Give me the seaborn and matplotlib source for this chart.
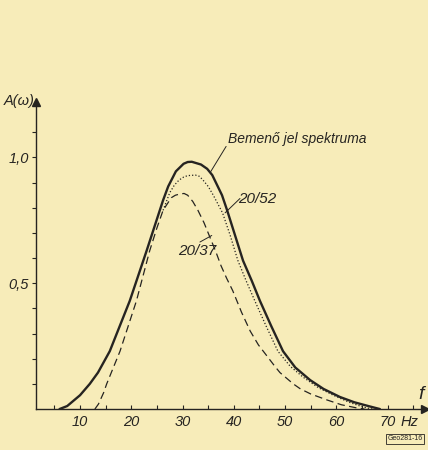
import pandas as pd
import matplotlib
matplotlib.use("Agg")
import matplotlib.pyplot as plt
import seaborn as sns

# values (f in Hz, A = relative amplitude)
input_f = [6.0, 7.5, 10.0, 11.9, 13.5, 15.8, 19.7, 23.0, 26.2, 27.2, 28.7, 30.2,
           31.0, 31.8, 33.6, 34.8, 35.8, 37.7, 38.7, 41.8, 43.5, 45.1, 47.3, 49.6,
           52.0, 54.9, 57.5, 60.7, 63.5, 66.6, 68.5]
input_a = [0.0, 0.012, 0.055, 0.10, 0.145, 0.23, 0.43, 0.63, 0.83, 0.885, 0.945, 0.975,
           0.982, 0.983, 0.972, 0.955, 0.93, 0.85, 0.79, 0.59, 0.51, 0.43, 0.33, 0.23,
           0.165, 0.115, 0.08, 0.048, 0.027, 0.01, 0.0]

f_2037 = [12.9, 13.6, 14.6, 15.2, 16.5, 17.8, 19.4, 21.0, 23.6, 25.0, 26.2, 27.8,
          28.6, 29.5, 30.3, 31.0, 32.0, 33.0, 34.2, 35.4, 36.5, 37.5, 38.6, 39.8,
          41.5, 43.2, 44.8, 46.5, 48.0, 49.0, 51.6, 53.0, 55.0, 58.2, 61.0, 64.1, 65.5]
a_2037 = [0.0, 0.02, 0.065, 0.10, 0.165, 0.23, 0.33, 0.43, 0.63, 0.72, 0.79, 0.84,
          0.85, 0.855, 0.857, 0.85, 0.825, 0.79, 0.74, 0.68, 0.625, 0.57, 0.52, 0.47,
          0.385, 0.31, 0.255, 0.21, 0.17, 0.145, 0.10, 0.08, 0.06, 0.036, 0.017, 0.004, 0.0]

# 20/52 follows the 20/37 curve on the rising side, drawn from where it leaves it
f_2052 = [26.2, 27.5, 28.4, 29.3, 30.2, 31.0, 32.5, 33.3, 34.0, 35.0, 36.0, 37.8,
          39.3, 40.8, 42.4, 44.1, 46.3, 48.6, 51.0, 53.5, 56.5, 59.4, 62.5, 65.2, 67.0]
a_2052 = [0.79, 0.86, 0.89, 0.91, 0.922, 0.928, 0.93, 0.925, 0.91, 0.885, 0.85, 0.78,
          0.69, 0.59, 0.51, 0.43, 0.33, 0.23, 0.17, 0.127, 0.085, 0.055, 0.027, 0.008, 0.0]

x_ticks = [10, 20, 30, 40, 50, 60, 70]
x_minor = [5, 15, 25, 35, 45, 55, 65, 75]
y_ticks = [0.1, 0.2, 0.3, 0.4, 0.5, 0.6, 0.7, 0.8, 0.9, 1.0, 1.1]
y_labels = {0.5: "0,5", 1.0: "1,0"}

PAPER = "#f7ecb9"
INK = "#262421"

sns.set_style("ticks")
plt.rcParams["font.family"] = ["Liberation Sans", "DejaVu Sans"]
plt.rcParams["font.style"] = "italic"

df_in = pd.DataFrame({"f": input_f, "A": input_a})
df_37 = pd.DataFrame({"f": f_2037, "A": a_2037})
df_52 = pd.DataFrame({"f": f_2052, "A": a_2052})

fig = plt.figure(figsize=(4.28, 4.5), dpi=100, facecolor=PAPER)
ax = fig.add_axes([0.084, 0.091, 0.909, 0.682], facecolor=PAPER)

sns.lineplot(data=df_in, x="f", y="A", ax=ax, color=INK, lw=1.7, sort=False)
sns.lineplot(data=df_37, x="f", y="A", ax=ax, color=INK, lw=0.9, sort=False).lines[-1].set_dashes([6, 3.5])
sns.lineplot(data=df_52, x="f", y="A", ax=ax, color=INK, lw=0.9, sort=False).lines[-1].set_dashes([1, 1.6])

ax.set_xlim(1.4, 77.3)
ax.set_ylim(0, 1.22)
sns.despine(ax=ax)
for s in ["left", "bottom"]:
    ax.spines[s].set_color(INK)
    ax.spines[s].set_linewidth(1.0)

# axis arrows
ax.plot(1, 0, ">", color=INK, ms=6, transform=ax.transAxes, clip_on=False)
ax.plot(0, 1, "^", color=INK, ms=6, transform=ax.transAxes, clip_on=False)

ax.set_xticks(x_ticks)
ax.set_xticklabels([str(t) for t in x_ticks])
ax.set_xticks(x_minor, minor=True)
ax.tick_params(axis="x", which="both", direction="in", length=3, width=0.8,
               color=INK, labelsize=10.5, labelcolor=INK, pad=4)
ax.set_yticks(y_ticks)
ax.set_yticklabels([y_labels.get(round(t, 1), "") for t in y_ticks])
ax.tick_params(axis="y", direction="out", length=3, width=0.8, color=INK,
               labelsize=10.5, labelcolor=INK, pad=2)
ax.set_xlabel("")
ax.set_ylabel("")

# curve labels with leader lines
ax.text(38.9, 1.056, "Bemenő jel spektruma", fontsize=10, color=INK)
ax.plot([38.5, 35.5], [1.044, 0.944], color=INK, lw=0.7)
ax.text(40.8, 0.82, "20/52", fontsize=11, color=INK)
ax.plot([41.2, 38.3], [0.837, 0.78], color=INK, lw=0.7)
ax.text(29.1, 0.611, "20/37", fontsize=11, color=INK)
ax.plot([33.4, 35.7], [0.664, 0.69], color=INK, lw=0.7)

ax.text(74.3, -0.05, "Hz", fontsize=10.5, color=INK, ha="center", va="center")
ax.text(76.6, 0.025, "f", fontsize=14, color=INK, ha="center", va="bottom")
fig.text(0.044, 0.776, "A(ω)", fontsize=10.5, color=INK, ha="center", va="center")
fig.text(0.946, 0.025, "Geo281-16", fontsize=5, color=INK, ha="center", va="center",
         style="normal",
         bbox=dict(boxstyle="square,pad=0.2", fc=PAPER, ec=INK, lw=0.6))

fig.savefig("out.png", dpi=100, facecolor=PAPER)
